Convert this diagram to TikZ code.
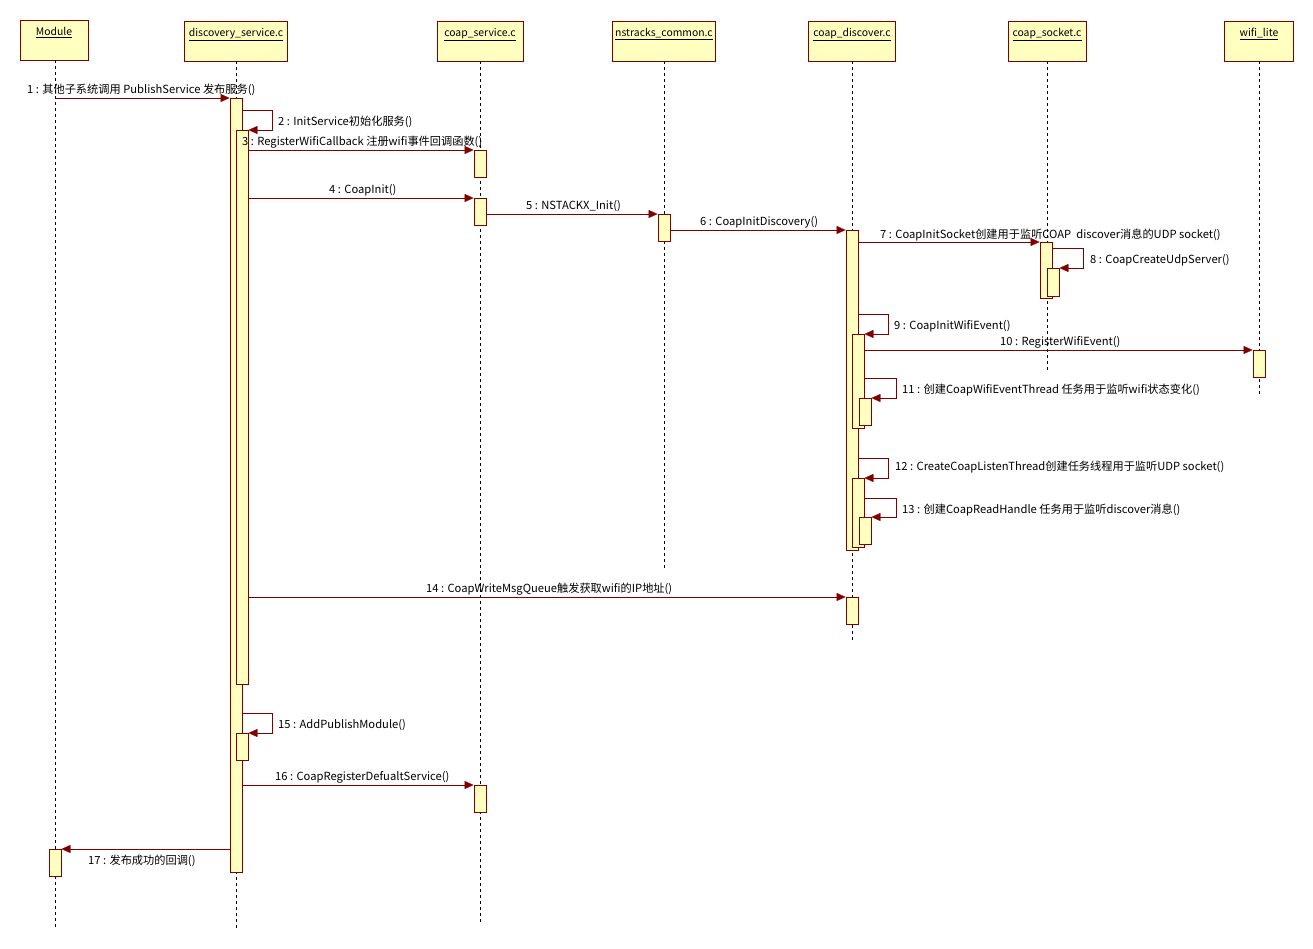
\documentclass[tikz,border=0pt]{standalone}
\usepackage{fontspec}
\setmainfont{Noto Sans CJK SC}
\usetikzlibrary{arrows.meta}
\definecolor{umlline}{RGB}{128,0,0}
\definecolor{umlfill}{RGB}{255,255,192}
\tikzset{
  head/.style={draw=umlline, fill=umlfill, minimum height=40pt, anchor=north, inner sep=0pt},
  headtext/.style={anchor=north, yshift=-7pt, inner sep=0pt, font=\fontsize{10.4}{12}\selectfont},
  life/.style={black, dash pattern=on 3pt off 3pt},
  act/.style={draw=umlline, fill=umlfill, minimum width=12.5pt, anchor=north, inner sep=0pt},
  msg/.style={umlline, -{Triangle[length=9pt,width=8pt]}},
  lbl/.style={anchor=west, inner sep=0pt, yshift=-1pt, font=\fontsize{11.2}{13}\selectfont},
}
\begin{document}
\begin{tikzpicture}[x=1pt, y=-1pt]
    \useasboundingbox (0,0) rectangle (1313,949);

    % objects
    \node[head, minimum width=68pt, label={[headtext]north:\underline{Module}}] (hMod) at (54,20) {};
    \node[head, minimum width=103pt, label={[headtext]north:\underline{discovery\_service.c}}] (hDisc) at (236,21) {};
    \node[head, minimum width=86pt, label={[headtext]north:\underline{coap\_service.c}}] (hServ) at (480,21) {};
    \node[head, minimum width=103pt, label={[headtext]north:\underline{nstracks\_common.c}}] (hNst) at (664,21) {};
    \node[head, minimum width=87pt, label={[headtext]north:\underline{coap\_discover.c}}] (hCd) at (852,21) {};
    \node[head, minimum width=78pt, label={[headtext]north:\underline{coap\_socket.c}}] (hSock) at (1047,21) {};
    \node[head, minimum width=69pt, label={[headtext]north:\underline{wifi\_lite}}] (hWifi) at (1259,21) {};

    % lifelines
    \coordinate (eMod) at (55.5,927);
    \coordinate (eDisc) at (236,928);
    \coordinate (eServ) at (480,922);
    \coordinate (eNst) at (664,570);
    \coordinate (eCd) at (852,643);
    \coordinate (eSock) at (1047,370);
    \coordinate (eWifi) at (1259,395);
    \draw[life] (hMod.south -| eMod) -- (eMod);
    \draw[life] (hDisc.south) -- (eDisc);
    \draw[life] (hServ.south) -- (eServ);
    \draw[life] (hNst.south) -- (eNst);
    \draw[life] (hCd.south) -- (eCd);
    \draw[life] (hSock.south) -- (eSock);
    \draw[life] (hWifi.south) -- (eWifi);

    % activations
    \node[act, minimum height=774pt] (aDisc) at (236,98) {};
    \node[act, minimum height=554pt] (aDisc3) at (242,130) {};
    \node[act, minimum height=27pt] (aDisc15) at (242,733) {};
    \node[act, minimum height=27pt] (aServ3) at (480,150) {};
    \node[act, minimum height=27pt] (aServ4) at (480,198) {};
    \node[act, minimum height=27pt] (aServ16) at (480,785) {};
    \node[act, minimum height=27pt] (aNst) at (664,214) {};
    \node[act, minimum height=320pt] (aCd) at (852,230) {};
    \node[act, minimum height=94pt] (aCd9) at (858,334) {};
    \node[act, minimum height=27pt] (aCd11) at (865,398) {};
    \node[act, minimum height=69pt] (aCd12) at (858,478) {};
    \node[act, minimum height=27pt] (aCd13) at (865,517) {};
    \node[act, minimum height=27pt] (aCd14) at (852,597) {};
    \node[act, minimum height=56pt] (aSock) at (1046,242) {};
    \node[act, minimum height=28pt] (aSock8) at (1053,268) {};
    \node[act, minimum height=27pt] (aWifi) at (1259,350) {};
    \node[act, minimum height=27pt] (aMod) at (55,849) {};

    % messages
    \draw[msg] (eMod |- 0,98) -- (aDisc.north west);
    \draw[msg] (aDisc.east |- 0,110) -| (272,130) -- (aDisc3.north east);
    \draw[msg] (aDisc3.east |- 0,150) -- (aServ3.north west);
    \draw[msg] (aDisc3.east |- 0,198) -- (aServ4.north west);
    \draw[msg] (aServ4.east |- 0,214) -- (aNst.north west);
    \draw[msg] (aNst.east |- 0,230) -- (aCd.north west);
    \draw[msg] (aCd.east |- 0,242) -- (aSock.north west);
    \draw[msg] (aSock.east |- 0,248) -| (1083,268) -- (aSock8.north east);
    \draw[msg] (aCd.east |- 0,314) -| (888,334) -- (aCd9.north east);
    \draw[msg] (aCd9.east |- 0,350) -- (aWifi.north west);
    \draw[msg] (aCd9.east |- 0,378) -| (896,398) -- (aCd11.north east);
    \draw[msg] (aCd.east |- 0,458) -| (888,478) -- (aCd12.north east);
    \draw[msg] (aCd12.east |- 0,498) -| (896,517) -- (aCd13.north east);
    \draw[msg] (aDisc3.east |- 0,597) -- (aCd14.north west);
    \draw[msg] (aDisc.east |- 0,713) -| (272,733) -- (aDisc15.north east);
    \draw[msg] (aDisc.east |- 0,785) -- (aServ16.north west);
    \draw[msg] (aDisc.west |- 0,849) -- (aMod.north east);

    % message labels
    \node[lbl] (l1) at (27,89) {1 : 其他子系统调用 PublishService 发布服务()};
    \node[lbl] (l2) at (278,121) {2 : InitService初始化服务()};
    \node[lbl] (l3) at (242,141) {3 : RegisterWifiCallback 注册wifi事件回调函数()};
    \node[lbl] (l4) at (329,189) {4 : CoapInit()};
    \node[lbl] (l5) at (526,205) {5 : NSTACKX\_Init()};
    \node[lbl] (l6) at (700,221) {6 : CoapInitDiscovery()};
    \node[lbl] (l7) at (880,234) {7 : CoapInitSocket创建用于监听COAP\ \ discover消息的UDP socket()};
    \node[lbl] (l8) at (1090,259) {8 : CoapCreateUdpServer()};
    \node[lbl] (l9) at (894,325) {9 : CoapInitWifiEvent()};
    \node[lbl] (l10) at (1000,341) {10 : RegisterWifiEvent()};
    \node[lbl] (l11) at (902,389) {11 : 创建CoapWifiEventThread 任务用于监听wifi状态变化()};
    \node[lbl] (l12) at (895,466) {12 : CreateCoapListenThread创建任务线程用于监听UDP socket()};
    \node[lbl] (l13) at (902,509) {13 : 创建CoapReadHandle 任务用于监听discover消息()};
    \node[lbl] (l14) at (426,588) {14 : CoapWriteMsgQueue触发获取wifi的IP地址()};
    \node[lbl] (l15) at (278,724) {15 : AddPublishModule()};
    \node[lbl] (l16) at (275,776) {16 : CoapRegisterDefualtService()};
    \node[lbl] (l17) at (88,860) {17 : 发布成功的回调()};
\end{tikzpicture}
\end{document}
